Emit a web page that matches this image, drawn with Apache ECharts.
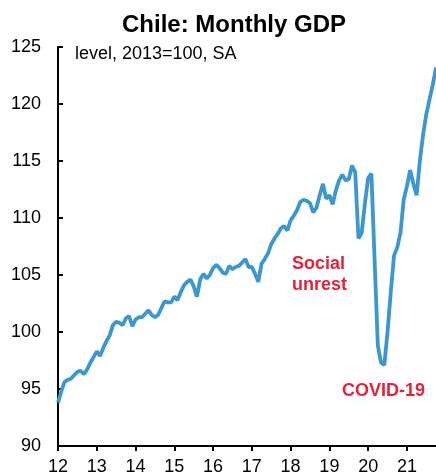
<!DOCTYPE html>
<html>
<head>
<meta charset="utf-8">
<script src="https://cdn.jsdelivr.net/npm/echarts@6/dist/echarts.min.js"></script>
<style>
  html, body { margin: 0; padding: 0; background: #fff; }
  #chart { width: 436px; height: 476px; }
</style>
</head>
<body>
<div id="chart"></div>
<script>
// Chile monthly GDP index (2013 = 100, seasonally adjusted), Jan 2012 onwards
const startYear = 2012;
const gdp2012 = [93.8, 94.8, 95.6, 95.8, 95.9, 96.2, 96.5, 96.6, 96.3, 96.7, 97.3, 97.8];
const gdp2013 = [98.3, 97.9, 98.6, 99.2, 99.7, 100.6, 100.9, 100.8, 100.6, 101.2, 101.4, 100.5];
const gdp2014 = [101.1, 101.3, 101.3, 101.6, 101.9, 101.5, 101.3, 101.5, 102.1, 102.7, 102.6, 102.6];
const gdp2015 = [103.1, 102.8, 103.5, 104.1, 104.4, 104.6, 104.0, 103.1, 104.6, 105.1, 104.7, 105.0];
const gdp2016 = [105.6, 105.9, 105.6, 105.2, 105.1, 105.8, 105.5, 105.7, 105.8, 106.1, 106.4, 105.7];
const gdp2017 = [105.7, 105.1, 104.4, 106.0, 106.4, 106.9, 107.7, 108.2, 108.6, 109.1, 109.3, 108.9];
const gdp2018 = [109.8, 110.2, 110.7, 111.4, 111.6, 111.5, 111.3, 110.5, 110.9, 112.0, 113.0, 111.7];
const gdp2019 = [112.0, 111.2, 112.4, 113.3, 113.8, 113.3, 113.4, 114.6, 114.0, 108.2, 108.7, 111.3];
const gdp2020 = [113.5, 113.9, 106.3, 98.8, 97.3, 97.1, 100.0, 103.5, 106.7, 107.4, 108.7, 111.6];
const gdp2021 = [112.8, 114.2, 113.0, 112.0, 115.0, 117.3, 119.1, 120.4, 121.7, 123.2];

const yTicks = { min: 90, max: 125, step: 5 };

const gdp = [].concat(gdp2012, gdp2013, gdp2014, gdp2015, gdp2016,
                      gdp2017, gdp2018, gdp2019, gdp2020, gdp2021);

// one category per month, e.g. "2012-01"
const months = gdp.map((_, i) => {
  const y = startYear + Math.floor(i / 12);
  const m = (i % 12) + 1;
  return y + '-' + (m < 10 ? '0' + m : m);
});

const FONT = 'Arial, "Liberation Sans", Helvetica, sans-serif';
const RED = '#e8203a';

const chart = echarts.init(document.getElementById('chart'), null, { renderer: 'canvas' });
chart.setOption({
  animation: false,
  backgroundColor: '#ffffff',
  title: {
    text: 'Chile: Monthly GDP',
    left: 117,
    top: 8,
    textStyle: { fontFamily: FONT, fontSize: 24, fontWeight: 'bold', color: '#000' }
  },
  grid: { left: 58, right: 0, top: 47, bottom: 30, containLabel: false },
  xAxis: {
    type: 'category',
    data: months,
    boundaryGap: false,
    axisLine: { lineStyle: { color: '#000', width: 2 } },
    axisTick: {
      show: true, inside: false, length: 5,
      interval: (i) => i % 12 === 0,
      lineStyle: { color: '#000', width: 2 }
    },
    axisLabel: {
      interval: (i) => i % 12 === 0,
      formatter: (v) => v.slice(2, 4),
      fontFamily: FONT, fontSize: 18, color: '#000', margin: 12
    },
    splitLine: { show: false }
  },
  yAxis: {
    type: 'value',
    min: yTicks.min,
    max: yTicks.max,
    interval: yTicks.step,
    axisLine: { show: true, lineStyle: { color: '#000', width: 2 } },
    axisTick: { show: true, inside: true, length: 5, lineStyle: { color: '#000', width: 2 } },
    axisLabel: { fontFamily: FONT, fontSize: 18, color: '#000', margin: 17 },
    splitLine: { show: false }
  },
  series: [{
    type: 'line',
    data: gdp,
    symbol: 'none',
    smooth: false,
    lineStyle: { color: '#3b97cf', width: 3.8 },
    z: 3
  }],
  graphic: [
    {
      type: 'text', left: 75, top: 45,
      style: { text: 'level, 2013=100, SA', font: '18px ' + FONT, fill: '#000' }
    },
    {
      type: 'text', left: 292, top: 254,
      style: {
        text: 'Social\nunrest', font: 'bold 18px ' + FONT, fill: RED,
        lineHeight: 21, align: 'left'
      }
    },
    {
      type: 'text', left: 342, top: 382,
      style: { text: 'COVID-19', font: 'bold 18px ' + FONT, fill: RED }
    }
  ]
});
</script>
</body>
</html>
